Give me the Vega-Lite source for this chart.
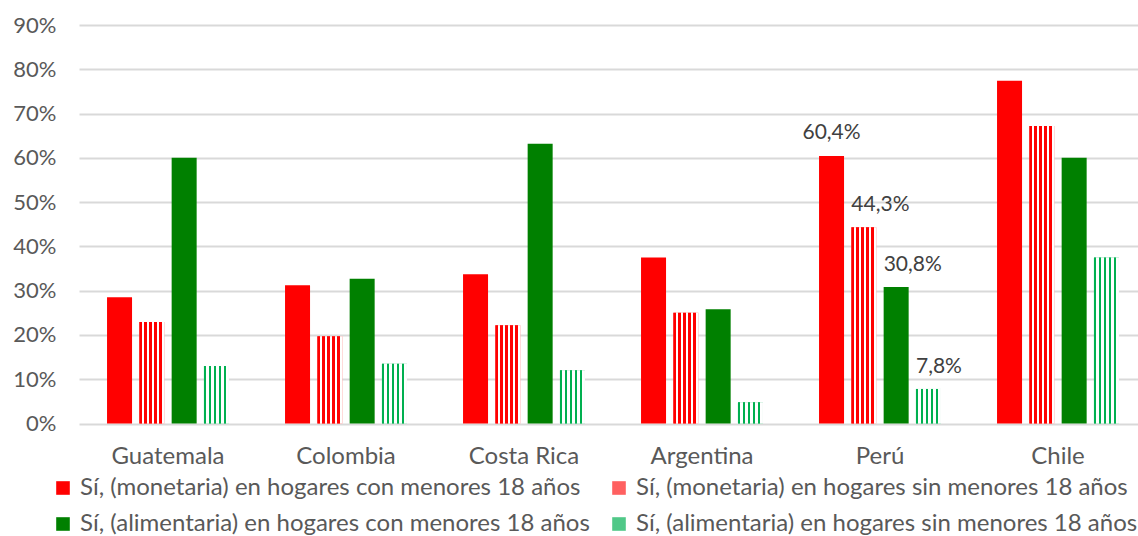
{
  "$schema": "https://vega.github.io/schema/vega-lite/v6.json",
  "autosize": {"type": "none"},
  "width": 1068,
  "height": 398.5,
  "padding": {"left": 79, "top": 25, "right": 0, "bottom": 113},
  "background": "white",
  "config": {
    "view": {"stroke": null},
    "font": "Lato",
    "axis": {"labelFont": "Lato", "labelColor": "#595959"}
  },
  "data": {
    "values": [
      {"pais": "Guatemala", "serie": "Sí, (monetaria) en hogares con menores 18 años", "valor": 0.285, "etiqueta": ""},
      {"pais": "Guatemala", "serie": "Sí, (monetaria) en hogares sin menores 18 años", "valor": 0.229, "etiqueta": ""},
      {"pais": "Guatemala", "serie": "Sí, (alimentaria) en hogares con menores 18 años", "valor": 0.600, "etiqueta": ""},
      {"pais": "Guatemala", "serie": "Sí, (alimentaria) en hogares sin menores 18 años", "valor": 0.130, "etiqueta": ""},
      {"pais": "Colombia", "serie": "Sí, (monetaria) en hogares con menores 18 años", "valor": 0.312, "etiqueta": ""},
      {"pais": "Colombia", "serie": "Sí, (monetaria) en hogares sin menores 18 años", "valor": 0.197, "etiqueta": ""},
      {"pais": "Colombia", "serie": "Sí, (alimentaria) en hogares con menores 18 años", "valor": 0.327, "etiqueta": ""},
      {"pais": "Colombia", "serie": "Sí, (alimentaria) en hogares sin menores 18 años", "valor": 0.135, "etiqueta": ""},
      {"pais": "Costa Rica", "serie": "Sí, (monetaria) en hogares con menores 18 años", "valor": 0.337, "etiqueta": ""},
      {"pais": "Costa Rica", "serie": "Sí, (monetaria) en hogares sin menores 18 años", "valor": 0.222, "etiqueta": ""},
      {"pais": "Costa Rica", "serie": "Sí, (alimentaria) en hogares con menores 18 años", "valor": 0.632, "etiqueta": ""},
      {"pais": "Costa Rica", "serie": "Sí, (alimentaria) en hogares sin menores 18 años", "valor": 0.120, "etiqueta": ""},
      {"pais": "Argentina", "serie": "Sí, (monetaria) en hogares con menores 18 años", "valor": 0.375, "etiqueta": ""},
      {"pais": "Argentina", "serie": "Sí, (monetaria) en hogares sin menores 18 años", "valor": 0.250, "etiqueta": ""},
      {"pais": "Argentina", "serie": "Sí, (alimentaria) en hogares con menores 18 años", "valor": 0.258, "etiqueta": ""},
      {"pais": "Argentina", "serie": "Sí, (alimentaria) en hogares sin menores 18 años", "valor": 0.048, "etiqueta": ""},
      {"pais": "Perú", "serie": "Sí, (monetaria) en hogares con menores 18 años", "valor": 0.604, "etiqueta": "60,4%"},
      {"pais": "Perú", "serie": "Sí, (monetaria) en hogares sin menores 18 años", "valor": 0.443, "etiqueta": "44,3%"},
      {"pais": "Perú", "serie": "Sí, (alimentaria) en hogares con menores 18 años", "valor": 0.308, "etiqueta": "30,8%"},
      {"pais": "Perú", "serie": "Sí, (alimentaria) en hogares sin menores 18 años", "valor": 0.078, "etiqueta": "7,8%"},
      {"pais": "Chile", "serie": "Sí, (monetaria) en hogares con menores 18 años", "valor": 0.774, "etiqueta": ""},
      {"pais": "Chile", "serie": "Sí, (monetaria) en hogares sin menores 18 años", "valor": 0.672, "etiqueta": ""},
      {"pais": "Chile", "serie": "Sí, (alimentaria) en hogares con menores 18 años", "valor": 0.600, "etiqueta": ""},
      {"pais": "Chile", "serie": "Sí, (alimentaria) en hogares sin menores 18 años", "valor": 0.375, "etiqueta": ""}
    ]
  },
  "encoding": {
    "x": {
      "field": "pais", "type": "nominal", "sort": null,
      "scale": {"paddingInner": 0.315, "paddingOuter": 0.1575},
      "axis": {"title": null, "labelAngle": 0, "ticks": false, "domain": false, "labelPadding": 21, "labelFontSize": 24, "grid": false}
    },
    "xOffset": {
      "field": "serie", "type": "nominal",
      "sort": ["Sí, (monetaria) en hogares con menores 18 años", "Sí, (monetaria) en hogares sin menores 18 años", "Sí, (alimentaria) en hogares con menores 18 años", "Sí, (alimentaria) en hogares sin menores 18 años"],
      "scale": {"paddingInner": 0.226, "paddingOuter": 0}
    },
    "y": {
      "field": "valor", "type": "quantitative",
      "scale": {"domain": [0, 0.9], "nice": false},
      "axis": {"title": null, "format": ".0%", "values": [0, 0.1, 0.2, 0.3, 0.4, 0.5, 0.6, 0.7, 0.8, 0.9], "ticks": false, "domain": false, "labelPadding": 23, "labelFontSize": 22, "gridColor": "#d9d9d9", "gridWidth": 1.8}
    }
  },
  "layer": [
    {
      "mark": {"type": "bar"},
      "encoding": {
        "color": {
          "field": "serie", "type": "nominal",
          "sort": ["Sí, (monetaria) en hogares con menores 18 años", "Sí, (monetaria) en hogares sin menores 18 años", "Sí, (alimentaria) en hogares con menores 18 años", "Sí, (alimentaria) en hogares sin menores 18 años"],
          "scale": {
            "domain": ["Sí, (monetaria) en hogares con menores 18 años", "Sí, (monetaria) en hogares sin menores 18 años", "Sí, (alimentaria) en hogares con menores 18 años", "Sí, (alimentaria) en hogares sin menores 18 años"],
            "range": ["#FF0000", "#FF6060", "#008000", "#50C888"]
          },
          "legend": {
            "title": null, "orient": "none", "legendX": -28, "legendY": 451, "padding": 0,
            "direction": "horizontal", "columns": 2, "gridAlign": "all",
            "columnPadding": 17, "rowPadding": 12,
            "symbolType": "square", "symbolSize": 185, "symbolStrokeWidth": 0, "symbolOffset": 0,
            "labelFont": "Lato", "labelFontSize": 24, "labelColor": "#595959", "labelLimit": 700, "labelOffset": 5
          }
        }
      }
    },
    {
      "transform": [{"filter": "datum.serie === 'Sí, (monetaria) en hogares sin menores 18 años'"}],
      "mark": {"type": "bar", "color": {"gradient": "linear", "x1": 0, "y1": 0, "x2": 1, "y2": 0, "stops": [
                {"offset": 0, "color": "#FF0000"}, {"offset": 0.1, "color": "#FF0000"},
                {"offset": 0.1, "color": "#FFFFFF"}, {"offset": 0.2, "color": "#FFFFFF"},
                {"offset": 0.2, "color": "#FF0000"}, {"offset": 0.3, "color": "#FF0000"},
                {"offset": 0.3, "color": "#FFFFFF"}, {"offset": 0.4, "color": "#FFFFFF"},
                {"offset": 0.4, "color": "#FF0000"}, {"offset": 0.5, "color": "#FF0000"},
                {"offset": 0.5, "color": "#FFFFFF"}, {"offset": 0.6, "color": "#FFFFFF"},
                {"offset": 0.6, "color": "#FF0000"}, {"offset": 0.7, "color": "#FF0000"},
                {"offset": 0.7, "color": "#FFFFFF"}, {"offset": 0.8, "color": "#FFFFFF"},
                {"offset": 0.8, "color": "#FF0000"}, {"offset": 0.9, "color": "#FF0000"},
                {"offset": 0.9, "color": "#FFFFFF"}, {"offset": 1, "color": "#FFFFFF"}
              ]}},
      "encoding": {}
    },
    {
      "transform": [{"filter": "datum.serie === 'Sí, (alimentaria) en hogares sin menores 18 años'"}],
      "mark": {"type": "bar", "color": {"gradient": "linear", "x1": 0, "y1": 0, "x2": 1, "y2": 0, "stops": [
                {"offset": 0, "color": "#00B050"}, {"offset": 0.1, "color": "#00B050"},
                {"offset": 0.1, "color": "#FFFFFF"}, {"offset": 0.2, "color": "#FFFFFF"},
                {"offset": 0.2, "color": "#00B050"}, {"offset": 0.3, "color": "#00B050"},
                {"offset": 0.3, "color": "#FFFFFF"}, {"offset": 0.4, "color": "#FFFFFF"},
                {"offset": 0.4, "color": "#00B050"}, {"offset": 0.5, "color": "#00B050"},
                {"offset": 0.5, "color": "#FFFFFF"}, {"offset": 0.6, "color": "#FFFFFF"},
                {"offset": 0.6, "color": "#00B050"}, {"offset": 0.7, "color": "#00B050"},
                {"offset": 0.7, "color": "#FFFFFF"}, {"offset": 0.8, "color": "#FFFFFF"},
                {"offset": 0.8, "color": "#00B050"}, {"offset": 0.9, "color": "#00B050"},
                {"offset": 0.9, "color": "#FFFFFF"}, {"offset": 1, "color": "#FFFFFF"}
              ]}},
      "encoding": {}
    },
    {
      "transform": [{"filter": "datum.serie === 'Sí, (monetaria) en hogares con menores 18 años'"}],
      "mark": {"type": "text", "align": "center", "baseline": "middle", "dy": -23, "font": "Lato", "fontSize": 21, "color": "#404040"},
      "encoding": {"text": {"field": "etiqueta"}}
    },
    {
      "transform": [{"filter": "datum.serie !== 'Sí, (monetaria) en hogares con menores 18 años'"}],
      "mark": {"type": "text", "align": "left", "baseline": "middle", "dx": -12.5, "dy": -22, "font": "Lato", "fontSize": 21, "color": "#404040"},
      "encoding": {"text": {"field": "etiqueta"}}
    }
  ]
}
